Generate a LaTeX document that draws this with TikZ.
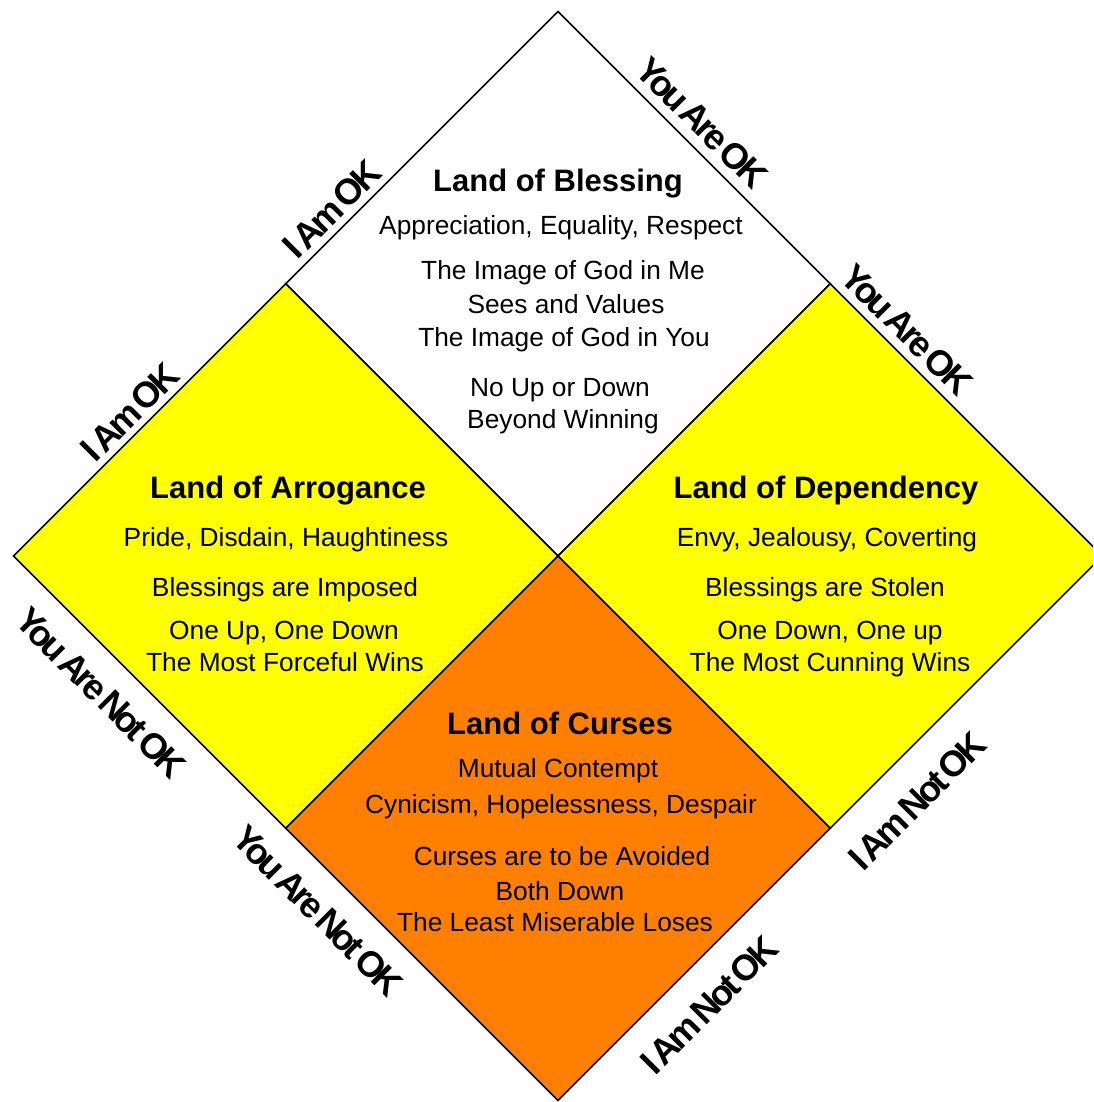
\documentclass[tikz,border=0pt]{standalone}
\usepackage{fontspec}
\setmainfont{Liberation Sans}
\newfontfamily\lblfont{Liberation Sans}[LetterSpace=-10,WordSpace=0.5]
\definecolor{dyel}{RGB}{255,255,0}
\definecolor{dorg}{RGB}{255,128,0}
\tikzset{
  quad/.style={draw=black, line width=1.5pt, line join=miter},
  hdr/.style={anchor=base, inner sep=0pt, font=\fontsize{31}{36}\selectfont\bfseries},
  txt/.style={anchor=base, inner sep=0pt, font=\fontsize{26.3}{31}\selectfont},
  lbl/.style={inner sep=0pt, font=\lblfont\bfseries\fontsize{36}{40}\selectfont}
}
\begin{document}
\begin{tikzpicture}[x=1pt,y=-1pt]
\useasboundingbox (0,0) rectangle (1093,1102);
\clip (0,0) rectangle (1093,1102);
\coordinate (C) at (558,556);
\coordinate (T) at (558,11.5);
\coordinate (B) at (558,1100.5);
\coordinate (L) at (13.5,556);
\coordinate (R) at (1102.5,556);
\coordinate (TL) at (285.75,283.75);
\coordinate (TR) at (830.25,283.75);
\coordinate (BL) at (285.75,828.25);
\coordinate (BR) at (830.25,828.25);
% squares
\filldraw[quad, fill=white] (T) -- (TR) -- (C) -- (TL) -- cycle;
\filldraw[quad, fill=dyel] (TL) -- (C) -- (BL) -- (L) -- cycle;
\filldraw[quad, fill=dyel] (TR) -- (R) -- (BR) -- (C) -- cycle;
\filldraw[quad, fill=dorg] (C) -- (BR) -- (B) -- (BL) -- cycle;
% edge labels
\node[lbl, rotate=45]  (l1) at (332,209) {I Am OK};
\node[lbl, rotate=-45] (l2) at (702,123) {You Are OK};
\node[lbl, rotate=45]  (l3) at (130,412) {I Am OK};
\node[lbl, rotate=-45] (l4) at (907,330) {You Are OK};
\node[lbl, rotate=-45] (l5) at (101,693) {You Are Not OK};
\node[lbl, rotate=45]  (l6) at (917,801) {I Am Not OK};
\node[lbl, rotate=-45] (l7) at (318,911) {You Are Not OK};
\node[lbl, rotate=45]  (l8) at (709,1005) {I Am Not OK};
% top: blessing
\node[hdr] (t0) at (558,191) {Land of Blessing};
\node[txt] (t1) at (561,234) {Appreciation, Equality, Respect};
\node[txt] (t2) at (563,279) {The Image of God in Me};
\node[txt] (t3) at (566,313) {Sees and Values};
\node[txt] (t4) at (564,346) {The Image of God in You};
\node[txt] (t5) at (560,396) {No Up or Down};
\node[txt] (t6) at (563,428) {Beyond Winning};
% left: arrogance
\node[hdr] (a0) at (288,498) {Land of Arrogance};
\node[txt] (a1) at (286,546) {Pride, Disdain, Haughtiness};
\node[txt] (a2) at (285,596) {Blessings are Imposed};
\node[txt] (a3) at (284,639) {One Up, One Down};
\node[txt] (a4) at (285,671) {The Most Forceful Wins};
% right: dependency
\node[hdr] (d0) at (826,498) {Land of Dependency};
\node[txt] (d1) at (827,546) {Envy, Jealousy, Coverting};
\node[txt] (d2) at (825,596) {Blessings are Stolen};
\node[txt] (d3) at (830,639) {One Down, One up};
\node[txt] (d4) at (830,671) {The Most Cunning Wins};
% bottom: curses
\node[hdr] (c0) at (560,734) {Land of Curses};
\node[txt] (c1) at (558,777) {Mutual Contempt};
\node[txt] (c2) at (561,813) {Cynicism, Hopelessness, Despair};
\node[txt] (c3) at (562,865) {Curses are to be Avoided};
\node[txt] (c4) at (560,900) {Both Down};
\node[txt] (c5) at (555,931) {The Least Miserable Loses};
\end{tikzpicture}
\end{document}
